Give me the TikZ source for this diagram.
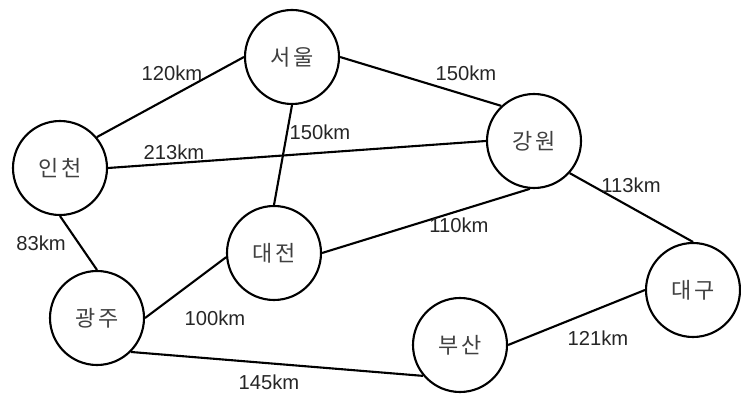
\documentclass[tikz,border=0pt]{standalone}
\usepackage{fontspec}
\setmainfont{Liberation Sans}
\newfontfamily\krfont[LetterSpace=14]{Noto Sans CJK KR}
\usepackage{tikz}
\usetikzlibrary{positioning}

\begin{document}
\begin{tikzpicture}[
    city/.style={circle, draw=black, line width=1.2pt, minimum size=1.88cm, inner sep=0pt, font=\krfont\fontsize{12.5}{14}\selectfont, text=black!75},
    dist/.style={inner sep=1pt, font=\fontsize{11.5}{13}\selectfont, text=black!85},
    road/.style={line width=1.2pt, draw=black}
]
\useasboundingbox (0,0) rectangle (14.82,8);

% Cities
\node[city] (seoul) at (5.84,6.86) {서울};
\node[city] (incheon) at (1.20,4.64) {인천};
\node[city] (gangwon) at (10.68,5.18) {강원};
\node[city] (daejeon) at (5.48,2.94) {대전};
\node[city] (gwangju) at (1.94,1.64) {광주};
\node[city] (busan) at (9.20,1.10) {부산};
\node[city] (daegu) at (13.86,2.20) {대구};

% Roads
\draw[road] (incheon.40) -- (seoul.180);
\draw[road] (seoul.east) -- (gangwon.133);
\draw[road] (seoul.south) -- (daejeon.north);
\draw[road] (incheon.east) -- (gangwon.west);
\draw[road] (incheon.south) -- (gwangju.north);
\draw[road] (gangwon.-42) -- (daegu.north);
\draw[road] (daejeon.east) -- (gangwon.-95);
\draw[road] (gwangju.east) -- (daejeon.185);
\draw[road] (gwangju.-45) -- (busan.-140);
\draw[road] (busan.east) -- (daegu.west);

% Distances
\node[dist] (d_inc_seo) at (3.44,6.54) {120km};
\node[dist] (d_seo_gan) at (9.32,6.54) {150km};
\node[dist] (d_seo_dae) at (6.40,5.36) {150km};
\node[dist] (d_inc_gan) at (3.48,4.96) {213km};
\node[dist] (d_gan_dgu) at (12.62,4.30) {113km};
\node[dist] (d_dae_gan) at (9.18,3.50) {110km};
\node[dist] (d_inc_gwa) at (0.82,3.14) {83km};
\node[dist] (d_gwa_dae) at (4.30,1.64) {100km};
\node[dist] (d_gwa_bus) at (5.38,0.36) {145km};
\node[dist] (d_bus_dgu) at (11.96,1.24) {121km};

\end{tikzpicture}
\end{document}
